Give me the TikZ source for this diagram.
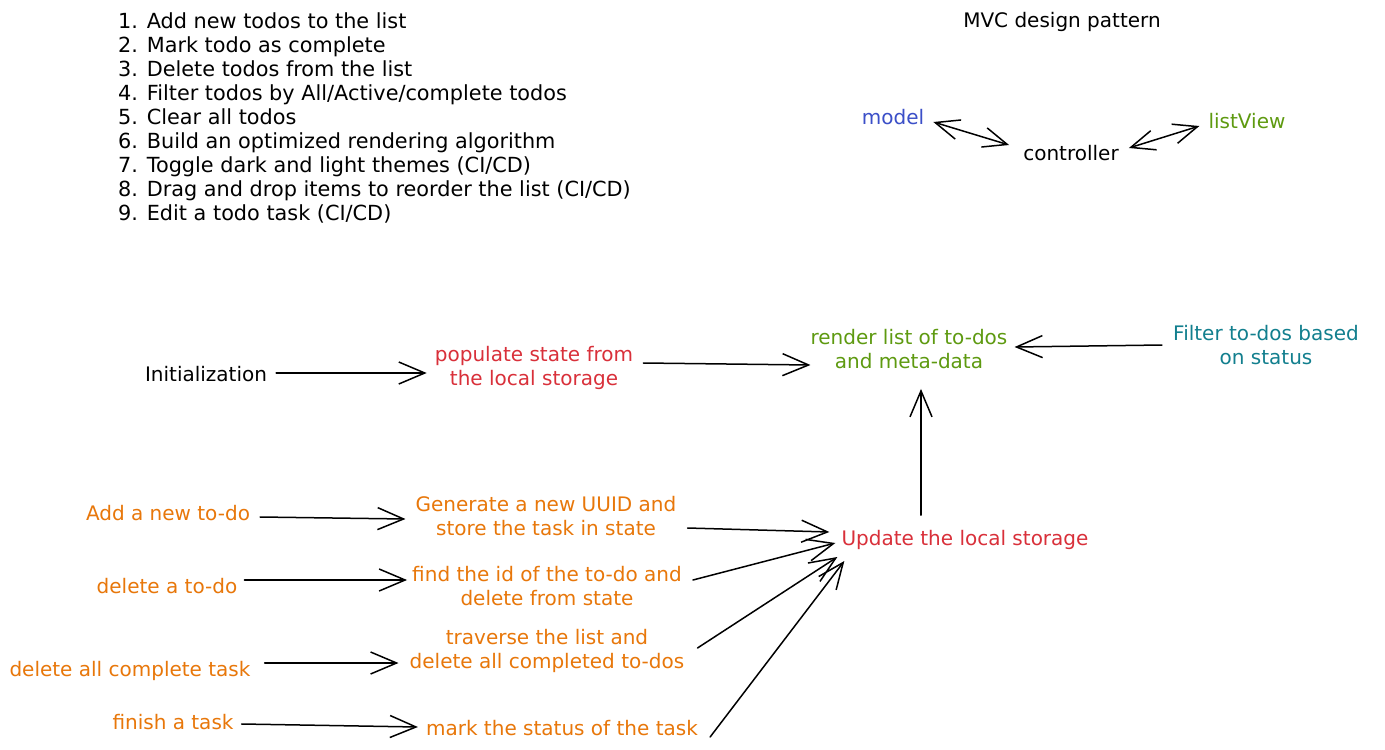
\documentclass[tikz,border=0pt]{standalone}
\usepackage{fontspec}
\setmainfont{DejaVu Sans}
\usetikzlibrary{arrows.meta}
\definecolor{cblue}{HTML}{3B4FC8}
\definecolor{cgreen}{HTML}{5E9A10}
\definecolor{cred}{HTML}{D9303A}
\definecolor{corange}{HTML}{E8770A}
\definecolor{cteal}{HTML}{127F8E}
\tikzset{
  txt/.style={font=\fontsize{20}{24}\selectfont, inner sep=0pt, align=center},
  arr/.style={line width=1.5pt, line cap=round, -{Straight Barb[length=26pt,width=22pt,line width=1.5pt]}},
  darr/.style={line width=1.5pt, line cap=round, {Straight Barb[length=24pt,width=20pt,line width=1.5pt]}-{Straight Barb[length=24pt,width=20pt,line width=1.5pt]}}
}
\begin{document}
\begin{tikzpicture}[x=1pt,y=-1pt]
\useasboundingbox[fill=white] (0,0) rectangle (1385,750);
% todo list
\node[txt, font=\fontsize{20.8}{24.1}\selectfont, align=left, anchor=west] (list) at (118,118) {1. Add new todos to the list\\
2. Mark todo as complete\\
3. Delete todos from the list\\
4. Filter todos by All/Active/complete todos\\
5. Clear all todos\\
6. Build an optimized rendering algorithm\\
7. Toggle dark and light themes (CI/CD)\\
8. Drag and drop items to reorder the list (CI/CD)\\
9. Edit a todo task (CI/CD)};
% MVC
\node[txt] (mvc) at (1062,22) {MVC design pattern};
\node[txt, text=cblue] (model) at (893,117) {model};
\node[txt] (ctrl) at (1071,153) {controller};
\node[txt, text=cgreen] (lview) at (1247,121) {listView};
\draw[darr] ([shift={(9,5)}]model.east) -- ([shift={(-14,-8)}]ctrl.west);
\draw[darr] ([shift={(10,-5)}]ctrl.east) -- ([shift={(-9,5)}]lview.west);
% main flow
\node[txt] (init) at (206,374) {Initialization};
\node[txt, text=cred] (pop) at (534,368) {populate state from\\the local storage};
\node[txt, text=cgreen] (render) at (909,349) {render list of to-dos\\and meta-data};
\node[txt, text=cteal] (filter) at (1266,345) {Filter to-dos based\\on status};
\node[txt, text=cred] (upd) at (965,540) {Update the local storage};
\draw[arr] ([shift={(9,-1)}]init.east) -- ([shift={(-8,5)}]pop.west);
\draw[arr] ([shift={(10,-5)}]pop.east) -- ([shift={(0,16)}]render.west);
\draw[arr] ([shift={(-11,0)}]filter.west) -- ([shift={(7,-2)}]render.east);
\draw[arr] ([shift={(-44,-15)}]upd.north) -- ([shift={(12,20)}]render.south);
% actions
\node[txt, text=corange] (add) at (168,513) {Add a new to-do};
\node[txt, text=corange] (del) at (167,586) {delete a to-do};
\node[txt, text=corange] (delall) at (130,671) {delete all complete task};
\node[txt, text=corange] (fin) at (173,722) {finish a task};
\node[txt, text=corange] (gen) at (546,516) {Generate a new UUID and\\store the task in state};
\node[txt, text=corange] (find) at (547,586) {find the id of the to-do and\\delete from state};
\node[txt, text=corange] (trav) at (547,651) {traverse the list and\\delete all completed to-dos};
\node[txt, text=corange] (mark) at (562,728) {mark the status of the task};
\draw[arr] ([shift={(10,4)}]add.east) -- ([shift={(-10,3)}]gen.west);
\draw[arr] ([shift={(7,-6)}]del.east) -- ([shift={(-5,-6)}]find.west);
\draw[arr] ([shift={(14,-8)}]delall.east) -- ([shift={(-11,12)}]trav.west);
\draw[arr] ([shift={(8,2)}]fin.east) -- ([shift={(-8,-1)}]mark.west);
\draw[arr] ([shift={(11,12)}]gen.east) -- ([shift={(-12,-8)}]upd.west);
\draw[arr] ([shift={(11,-6)}]find.east) -- ([shift={(-6,3)}]upd.west);
\draw[arr] ([shift={(13,-3)}]trav.east) -- ([shift={(-4,17)}]upd.west);
\draw[arr] ([shift={(12,9)}]mark.east) -- ([shift={(3,21)}]upd.west);
\end{tikzpicture}
\end{document}
